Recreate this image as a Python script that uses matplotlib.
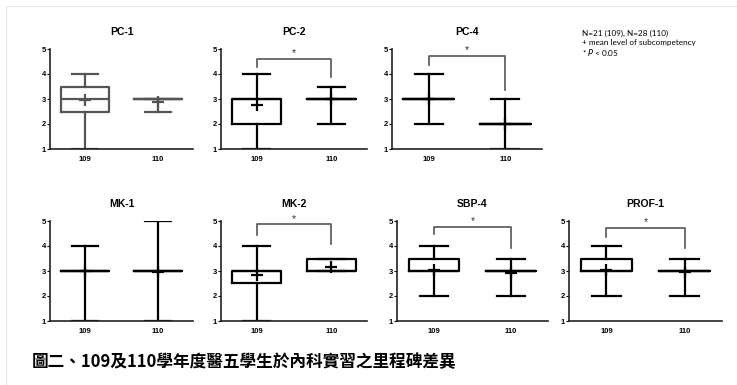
import numpy as np
import matplotlib
matplotlib.use('Agg')
import matplotlib.pyplot as plt
from matplotlib.lines import Line2D

plt.rcParams['font.family'] = ['Liberation Sans', 'DejaVu Sans']

# 資料 (109, 110): min, q1, median, q3, max, mean
panels = ['PC-1', 'PC-2', 'PC-4', 'MK-1', 'MK-2', 'SBP-4', 'PROF-1']
groups = ['109', '110']
mins = [[1, 2.5], [1, 2], [2, 1], [1, 1], [1, 3], [2, 2], [2, 2]]
q1s = [[2.5, 3], [2, 3], [3, 2], [3, 3], [2.5, 3], [3, 3], [3, 3]]
medians = [[3, 3], [3, 3], [3, 2], [3, 3], [3, 3], [3, 3], [3, 3]]
q3s = [[3.5, 3], [3, 3], [3, 2], [3, 3], [3, 3.5], [3.5, 3], [3.5, 3]]
maxs = [[4, 3], [4, 3.5], [4, 3], [4, 5], [4, 3.5], [4, 3.5], [4, 3.5]]
means = [[2.95, 2.88], [2.75, 3.0], [3.0, 2.0], [3.0, 2.95], [2.85, 3.15], [3.05, 2.92], [3.03, 2.95]]
# 顯著差異括號: 頂端, 左腳, 右腳 (None = 無)
sig = [None, (4.6, 4.28, 3.88), (4.72, 4.36, 3.36), None,
       (4.87, 4.43, 4.07), (4.76, 4.49, 3.93), (4.73, 4.37, 3.93)]
yticks = [1, 2, 3, 4, 5]

W, H = 737, 385
fig = plt.figure(figsize=(W / 100, H / 100), dpi=100)

# 各小圖位置 (px): left, right, top, bottom
boxes_px = [(50, 193, 49, 149), (221, 367, 49, 149), (392, 542, 49, 149),
            (50, 193, 221, 321), (221, 367, 221, 321), (397, 548, 221, 321),
            (569, 722, 221, 321)]

for i, name in enumerate(panels):
    l, r, t, b = boxes_px[i]
    ax = fig.add_axes([l / W, 1 - b / H, (r - l) / W, (b - t) / H])
    col = '#555555' if i == 0 else 'black'
    stats = []
    for j in range(2):
        stats.append(dict(whislo=mins[i][j], q1=q1s[i][j], med=medians[i][j],
                          q3=q3s[i][j], whishi=maxs[i][j], mean=means[i][j]))
    lp = dict(color=col, linewidth=1.6)
    ax.bxp(stats, positions=[1, 2], widths=0.66, showfliers=False,
           showmeans=True, boxprops=lp, whiskerprops=lp, capprops=lp,
           medianprops=lp, capwidths=0.36,
           meanprops=dict(marker='+', markersize=9, markeredgecolor=col,
                          markeredgewidth=1.6))
    ax.set_xlim(0.52, 2.48)
    ax.set_ylim(1, 5)
    ax.set_yticks(yticks)
    ax.set_yticklabels([str(v) for v in yticks], fontsize=5.5, fontweight='bold')
    ax.set_xticks([1, 2])
    ax.set_xticklabels(groups, fontsize=5.5, fontweight='bold')
    ax.tick_params(axis='y', length=2, width=0.8, pad=1)
    ax.tick_params(axis='x', length=0, pad=5)
    for s in ['top', 'right']:
        ax.spines[s].set_visible(False)
    for s in ['left', 'bottom']:
        ax.spines[s].set_linewidth(1.2)
        ax.spines[s].set_color('#222222')
    ax.set_title(name, fontsize=7.5, fontweight='bold', pad=10)
    if sig[i] is not None:
        top, lleg, rleg = sig[i]
        ax.plot([1, 1, 2, 2], [lleg, top, top, rleg], color='#555555',
                linewidth=1.2, clip_on=False)
        ax.text(1.5, top + 0.02, '*', ha='center', va='bottom', fontsize=7.5,
                color='#333333')

# 註解
note_x = 582 / W
fig.text(note_x, 1 - 33 / H, 'N=21 (109), N=28 (110)', fontsize=5.9,
         family='Lato', va='center')
fig.text(note_x, 1 - 43 / H, '+ mean level of subcompetency', fontsize=5.9,
         family='Lato', va='center')
fig.text(note_x, 1 - 53 / H, '* $\\it{P}$ < 0.05', fontsize=5.9,
         family='Lato', va='center')

# 圖說
fig.text(32 / W, 1 - 362 / H, '圖二、109及110學年度醫五學生於內科實習之里程碑差異',
         fontsize=12, fontweight='bold', va='center',
         family=['Noto Sans CJK TC', 'DejaVu Sans'])

# 淡灰外框
fig.add_artist(Line2D([6 / W, 1], [1 - 6 / H, 1 - 6 / H], color='#e8e8e8',
                      linewidth=0.8, transform=fig.transFigure))
fig.add_artist(Line2D([6 / W, 6 / W], [0, 1 - 6 / H], color='#e8e8e8',
                      linewidth=0.8, transform=fig.transFigure))

fig.savefig('out.png', dpi=100)
